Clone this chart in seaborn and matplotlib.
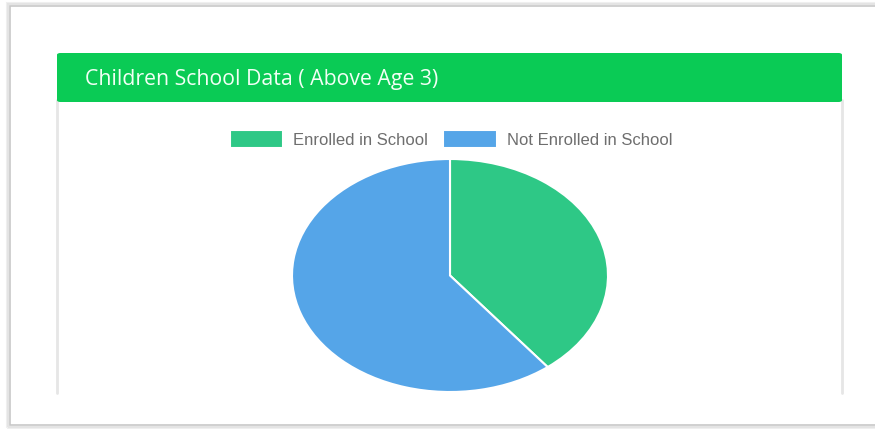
import matplotlib
matplotlib.use("Agg")
import matplotlib.pyplot as plt
import seaborn as sns
from matplotlib.patches import Rectangle, FancyBboxPatch
from matplotlib.lines import Line2D

# ---- data ----
categories = ["Enrolled in School", "Not Enrolled in School"]
values = [13, 20]
colors = ["#2ec886", "#55a5e8"]
title = "Children School Data ( Above Age 3)"

sns.set_theme(style="white")
plt.rcParams["font.family"] = ["Liberation Sans", "DejaVu Sans"]

W, H = 875, 429
fig = plt.figure(figsize=(W / 100, H / 100), dpi=100)
fig.patch.set_facecolor("white")

def fx(x):
    return x / W

def fy(y):
    return 1 - y / H

# outer frame with soft shadow
for off, col in [(3, "#f0f0f0"), (2, "#e4e4e4")]:
    fig.add_artist(Rectangle((fx(10 - off), fy(425 + off)), fx(900), fy(6 - off) - fy(425 + off),
                             transform=fig.transFigure, facecolor="none", edgecolor=col, lw=1.5, zorder=0))
fig.add_artist(Rectangle((fx(10), fy(425)), fx(900), fy(6) - fy(425),
                         transform=fig.transFigure, facecolor="white", edgecolor="#c8c8c8", lw=1.2, zorder=0.5))

# card side borders
for x in (57, 842):
    fig.add_artist(Line2D([fx(x), fx(x)], [fy(393), fy(100)], transform=fig.transFigure,
                          color="#e6e6e6", lw=2.0, zorder=1))

# header
fig.add_artist(FancyBboxPatch((fx(57), fy(102)), fx(842) - fx(57), fy(53) - fy(102),
                              boxstyle="round,pad=0,rounding_size=0.004", transform=fig.transFigure,
                              facecolor="#0acb55", edgecolor="none", zorder=2))
fig.text(fx(85), fy(79), title, color="#f2fff5", fontsize=15.3, va="center", ha="left",
         family=["Open Sans", "DejaVu Sans"], zorder=3)

# pie
ax = fig.add_axes([fx(292), fy(392), fx(608) - fx(292), fy(159) - fy(392)])
ax.set_zorder(5)
ax.patch.set_alpha(0)
wedges, _ = ax.pie(values, colors=colors, startangle=90, counterclock=False,
                   wedgeprops=dict(edgecolor="white", linewidth=1.5, clip_on=False))
ax.set_aspect("auto")
ax.set_xlim(-1.0, 1.0)
ax.set_ylim(-1.0, 1.0)
ax.axis("off")

leg = fig.legend(wedges, categories, loc="center", bbox_to_anchor=(fx(451), fy(139)), ncol=2,
                 frameon=False, fontsize=12, handlelength=3.2, handleheight=1.25,
                 handletextpad=0.6, columnspacing=0.9, labelcolor="#6e6e6e")
leg.set_zorder(6)

fig.savefig("out.png", dpi=100, facecolor="white")
